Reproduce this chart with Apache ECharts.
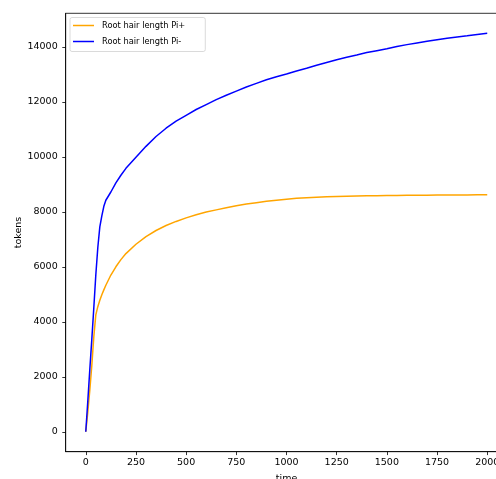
<!DOCTYPE html>
<html>
<head>
<meta charset="utf-8">
<script src="https://cdn.jsdelivr.net/npm/echarts@6/dist/echarts.min.js"></script>
<style>html,body{margin:0;padding:0;background:#fff;}#c{width:496px;height:479px;}</style>
</head>
<body>
<div id="c"></div>
<script>
const times = [0,10,20,30,40,50,60,70,80,90,100,125,150,175,200,250,300,350,400,450,500,550,600,650,700,750,800,850,900,950,1000,1050,1100,1150,1200,1250,1300,1350,1400,1450,1500,1550,1600,1650,1700,1750,1800,1850,1900,1950,2000];
const piPlus = [0,700,1500,2400,3450,4250,4550,4780,4980,5160,5330,5700,6000,6260,6480,6820,7100,7320,7500,7650,7780,7890,7990,8070,8150,8220,8280,8330,8380,8420,8460,8490,8510,8530,8545,8555,8565,8575,8582,8588,8592,8596,8600,8603,8606,8608,8610,8612,8614,8616,8618];
const piMinus = [0,1100,2250,3350,4500,5700,6700,7450,7850,8200,8420,8720,9050,9330,9580,9980,10380,10740,11040,11300,11510,11720,11900,12080,12240,12390,12540,12670,12800,12910,13010,13120,13220,13330,13430,13530,13620,13700,13790,13860,13930,14010,14080,14140,14200,14260,14310,14360,14400,14450,14490];
const xTicks = [0,250,500,750,1000,1250,1500,1750,2000];
const yTicks = [0,2000,4000,6000,8000,10000,12000,14000];
const seriesNames = ['Root hair length Pi+','Root hair length Pi-'];

const font = 'DejaVu Sans';
const chart = echarts.init(document.getElementById('c'), null, {renderer:'canvas'});
chart.setOption({
  animation:false,
  backgroundColor:'#fff',
  textStyle:{fontFamily:font},
  grid:{left:65.7, top:13.3, width:441.6, height:438.4, show:true, borderColor:'#000', borderWidth:0.8, containLabel:false, outerBoundsMode:'none'},
  legend:{
    left:70, top:17.5, orient:'vertical',
    backgroundColor:'#fff', borderColor:'#d0d0d0', borderWidth:0.8, borderRadius:2,
    padding:[3,20,5,3], itemGap:6, itemWidth:21, itemHeight:1.5, icon:'rect',
    textStyle:{fontFamily:font, fontSize:8.3, lineHeight:10, color:'#000', padding:[0,0,0,3]},
    data:seriesNames
  },
  xAxis:{
    type:'value', min:-100, max:2100,
    name:'time', nameLocation:'middle', nameGap:22, nameMoveOverlap:false,
    nameTextStyle:{fontFamily:font, fontSize:9.5, color:'#000'},
    axisLine:{show:true, onZero:false, lineStyle:{color:'#000', width:0.8}},
    axisTick:{show:true, length:3.4, customValues:xTicks, lineStyle:{color:'#000', width:0.8}},
    axisLabel:{customValues:xTicks, margin:6, fontFamily:font, fontSize:9.5, color:'#000', formatter:v=>String(v)},
    splitLine:{show:false}
  },
  yAxis:{
    type:'value', min:-725, max:15219,
    name:'tokens', nameLocation:'middle', nameGap:42, nameRotate:90, nameMoveOverlap:false,
    nameTextStyle:{fontFamily:font, fontSize:9.5, color:'#000'},
    axisLine:{show:true, onZero:false, lineStyle:{color:'#000', width:0.8}},
    axisTick:{show:true, length:3.4, customValues:yTicks, lineStyle:{color:'#000', width:0.8}},
    axisLabel:{customValues:yTicks, margin:8, fontFamily:font, fontSize:9.5, color:'#000', formatter:v=>String(v)},
    splitLine:{show:false}
  },
  series:[
    {name:seriesNames[0], type:'line', data:times.map((t,i)=>[t,piPlus[i]]), symbol:'none', lineStyle:{color:'#FFA500', width:1.5}, itemStyle:{color:'#FFA500'}},
    {name:seriesNames[1], type:'line', data:times.map((t,i)=>[t,piMinus[i]]), symbol:'none', lineStyle:{color:'#0000FF', width:1.5}, itemStyle:{color:'#0000FF'}}
  ]
});
</script>
</body>
</html>
